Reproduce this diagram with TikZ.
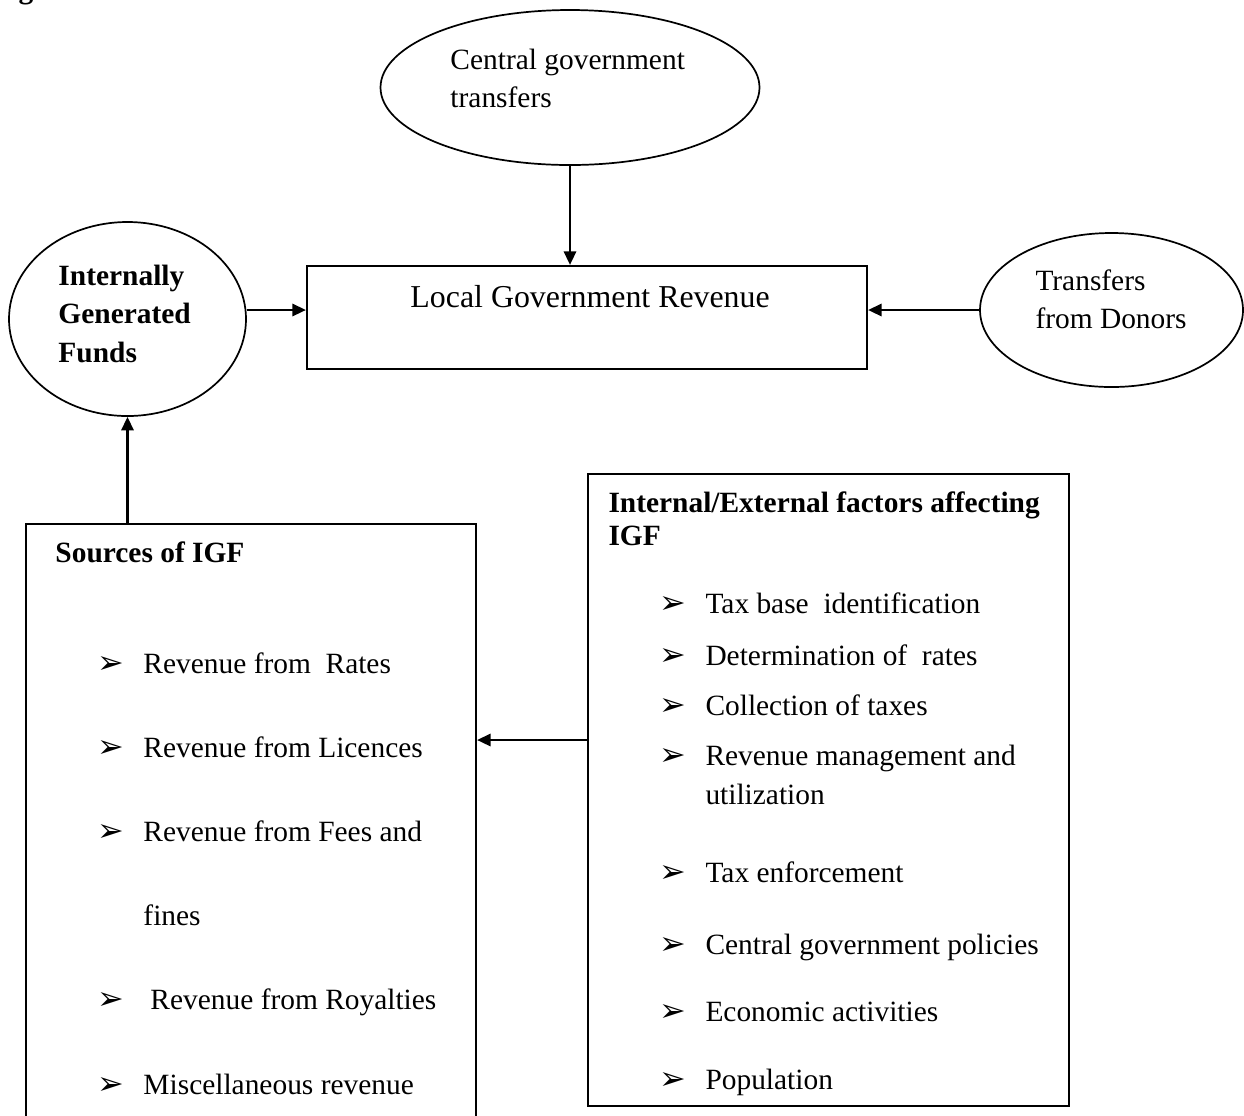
\documentclass[tikz,border=0pt]{standalone}
\usepackage{fontspec}
\setmainfont{Liberation Serif}
\newfontfamily\dingfont{DejaVu Sans}
\usetikzlibrary{arrows.meta,shapes.geometric}
\def\px{0.408pt}

\begin{document}
\begin{tikzpicture}[x=\px, y=-\px,
	oval/.style={draw, ellipse, line width=0.7pt, inner sep=0pt},
	box/.style={draw, rectangle, line width=0.9pt, inner sep=0pt},
	txt/.style={anchor=base west, inner sep=0pt, font=\fontsize{12}{14}\selectfont},
	hd/.style={txt, font=\fontsize{12}{14}\selectfont\bfseries},
	pointer/.style={anchor=base west, inner sep=0pt, font=\dingfont\fontsize{13}{13}\selectfont},
	arr/.style={line width=0.9pt, -{Triangle[length=5.5pt, width=5pt]}}]
			%%%%% START %%%%%
			
			\clip (0,0) rectangle (1244,1115);
			
			% caption cut by the top edge
			\node[hd] (fig) at (-8,-2) {Figure};
			
			\node[oval, minimum width=379*\px, minimum height=155*\px] (cgt) at (570,87.5) {};
			\node[txt] (cgt1) at (450,69) {Central government};
			\node[txt] (cgt2) at (450,107) {transfers};
			
			\node[box, minimum width=560*\px, minimum height=103*\px] (lgr) at (587,317.5) {};
			\node[txt, font=\fontsize{13}{15}\selectfont] (lgrtxt) at (410,307) {Local Government Revenue};
			
			\node[oval, minimum width=237*\px, minimum height=194*\px] (igf) at (127.5,319) {};
			\node[hd] (igf1) at (58,285) {Internally};
			\node[hd] (igf2) at (58,323) {Generated};
			\node[hd] (igf3) at (58,362) {Funds};
			
			\node[oval, minimum width=263*\px, minimum height=154*\px] (dn) at (1111.5,310) {};
			\node[txt] (dn1) at (1035,290) {Transfers};
			\node[txt] (dn2) at (1035,328) {from Donors};
			
			%%%%% SOURCES %%%%%
			\node[box, minimum width=450*\px, minimum height=620*\px] (src) at (251,834) {};
			\node[hd] (srchd) at (55,562) {Sources of IGF};
			\node[pointer] (s1p) at (97,673) {➢};
			\node[txt] (s1) at (143,673) {Revenue from\ \ Rates};
			\node[pointer] (s2p) at (97,757) {➢};
			\node[txt] (s2) at (143,757) {Revenue from Licences};
			\node[pointer] (s3p) at (97,841) {➢};
			\node[txt] (s3) at (143,841) {Revenue from Fees and};
			\node[txt] (s3b) at (143,925) {fines};
			\node[pointer] (s4p) at (97,1009) {➢};
			\node[txt] (s4) at (150,1009) {Revenue from Royalties};
			\node[pointer] (s5p) at (97,1094) {➢};
			\node[txt] (s5) at (143,1094) {Miscellaneous revenue};
			
			%%%%% FACTORS %%%%%
			\node[box, minimum width=481*\px, minimum height=632*\px] (fac) at (828.5,790) {};
			\node[hd] (fachd1) at (608,512) {Internal/External factors affecting};
			\node[hd] (fachd2) at (608,545) {IGF};
			\node[pointer] (f1p) at (659,613) {➢};
			\node[txt] (f1) at (705,613) {Tax base\ \ identification};
			\node[pointer] (f2p) at (659,665) {➢};
			\node[txt] (f2) at (705,665) {Determination of\ \ rates};
			\node[pointer] (f3p) at (659,715) {➢};
			\node[txt] (f3) at (705,715) {Collection of taxes};
			\node[pointer] (f4p) at (659,765) {➢};
			\node[txt] (f4) at (705,765) {Revenue management and};
			\node[txt] (f4b) at (705,804) {utilization};
			\node[pointer] (f5p) at (659,882) {➢};
			\node[txt] (f5) at (705,882) {Tax enforcement};
			\node[pointer] (f6p) at (659,954) {➢};
			\node[txt] (f6) at (705,954) {Central government policies};
			\node[pointer] (f7p) at (659,1021) {➢};
			\node[txt] (f7) at (705,1021) {Economic activities};
			\node[pointer] (f8p) at (659,1089) {➢};
			\node[txt] (f8) at (705,1089) {Population};
			
			%%%%% ARROWS %%%%%
			\coordinate (lvl) at (280,310);
			\coordinate (mid) at (530,740);
			\draw[arr] (cgt.south) -- (cgt.south |- lgr.north);
			\draw[arr] (igf.east |- lvl) -- (lgr.west |- lvl);
			\draw[arr] (dn.west) -- (dn.west -| lgr.east);
			\draw[arr] (igf.south |- src.north) -- (igf.south);
			\draw[arr] (fac.west |- mid) -- (src.east |- mid);
			
			%%%%% END %%%%%
\end{tikzpicture}
\end{document}
